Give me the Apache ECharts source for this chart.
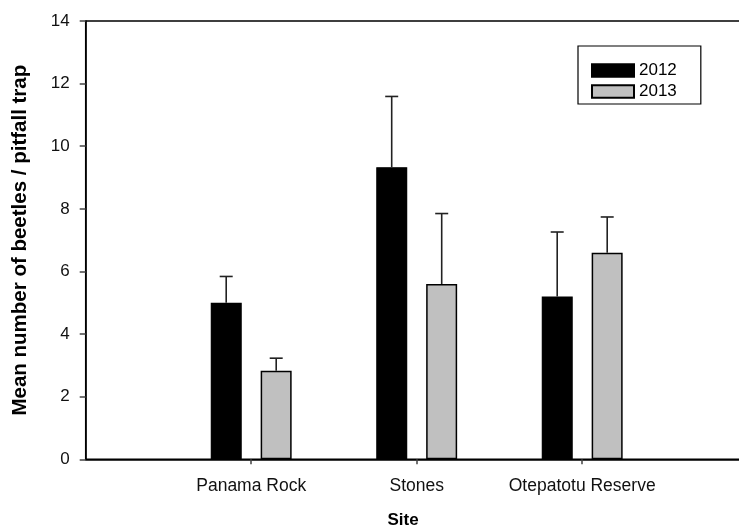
<!DOCTYPE html>
<html>
<head>
<meta charset="utf-8">
<script src="https://cdn.jsdelivr.net/npm/echarts@6/dist/echarts.min.js"></script>
<style>html,body{margin:0;padding:0;background:#fff}#c{width:739px;height:532px}</style>
</head>
<body>
<div id="c"></div>
<script>
var categories = ['', 'Panama Rock', 'Stones', 'Otepatotu Reserve', ''];
var seriesNames = ['2012', '2013'];
var mean2012 = [null, 5.00, 9.33, 5.20, null];
var mean2013 = [null, 2.83, 5.60, 6.60, null];
var err2012 = [null, 0.84, 2.26, 2.06, null];
var err2013 = [null, 0.40, 2.25, 1.14, null];
var yTicks = [0, 2, 4, 6, 8, 10, 12, 14];

var chart = echarts.init(document.getElementById('c'));
var FONT = 'Liberation Sans, Arial, sans-serif';

function errSeries(means, errs, offset, color) {
  var data = [];
  for (var i = 0; i < means.length; i++) {
    if (means[i] != null) data.push([i, means[i], means[i] + errs[i]]);
  }
  return {
    type: 'custom',
    silent: true,
    z: 5,
    data: data,
    renderItem: function (params, api) {
      var lo = api.coord([api.value(0), api.value(1)]);
      var hi = api.coord([api.value(0), api.value(2)]);
      var x = lo[0] + offset;
      var style = { stroke: color, lineWidth: 1.6 };
      return {
        type: 'group',
        children: [
          { type: 'line', shape: { x1: x, y1: lo[1], x2: x, y2: hi[1] }, style: style },
          { type: 'line', shape: { x1: x - 6.5, y1: hi[1], x2: x + 6.5, y2: hi[1] }, style: style }
        ]
      };
    }
  };
}

chart.setOption({
  animation: false,
  backgroundColor: '#fff',
  grid: { left: 85.7, top: 21, width: 662, height: 438.3, show: true, borderColor: '#000', borderWidth: 1.5,
    backgroundColor: 'transparent', containLabel: false, outerBoundsMode: 'none' },
  legend: {
    orient: 'vertical',
    left: 578, top: 46,
    data: seriesNames,
    itemWidth: 42, itemHeight: 12.5, itemGap: 4,
    padding: [16, 24, 4, 13],
    borderColor: '#000', borderWidth: 1.2,
    textStyle: { fontFamily: FONT, fontSize: 17, color: '#000' },
    icon: 'rect'
  },
  xAxis: {
    type: 'category',
    data: categories,
    boundaryGap: false,
    axisLine: { show: true, lineStyle: { color: '#000', width: 1.5 } },
    axisTick: { show: true, length: 5, inside: false, lineStyle: { color: '#444', width: 1.5 },
      interval: function (idx) { return idx >= 1 && idx <= 3; } },
    axisLabel: { fontFamily: FONT, fontSize: 17.5, color: '#111', margin: 18,
      interval: function (idx) { return idx >= 1 && idx <= 3; } },
    splitLine: { show: false }
  },
  yAxis: {
    type: 'value',
    min: 0, max: 14, interval: 2,
    name: 'Mean number of beetles / pitfall trap',
    nameLocation: 'middle',
    nameGap: 55,
    nameTextStyle: { fontFamily: FONT, fontSize: 20.5, fontWeight: 'bold', color: '#000' },
    axisLine: { show: true, lineStyle: { color: '#000', width: 1.5 } },
    axisTick: { show: true, length: 6, lineStyle: { color: '#444', width: 1.5 } },
    axisLabel: { fontFamily: FONT, fontSize: 17, color: '#111', margin: 16,
      formatter: function (v) { return yTicks.indexOf(v) >= 0 ? String(v) : ''; } },
    splitLine: { show: false }
  },
  graphic: [{
    type: 'text', x: 403, y: 520,
    style: { text: 'Site', font: 'bold 17px ' + FONT, fill: '#000', textAlign: 'center', textVerticalAlign: 'middle' }
  }],
  series: [
    { name: seriesNames[0], type: 'bar', data: mean2012, barWidth: 31, barGap: '61%',
      itemStyle: { color: '#000', borderColor: '#000', borderWidth: 1.2 } },
    { name: seriesNames[1], type: 'bar', data: mean2013, barWidth: 31,
      itemStyle: { color: '#c0c0c0', borderColor: '#000', borderWidth: 1.5 } },
    errSeries(mean2012, err2012, -25, '#222'),
    errSeries(mean2013, err2013, 25, '#222')
  ]
});
</script>
</body>
</html>
